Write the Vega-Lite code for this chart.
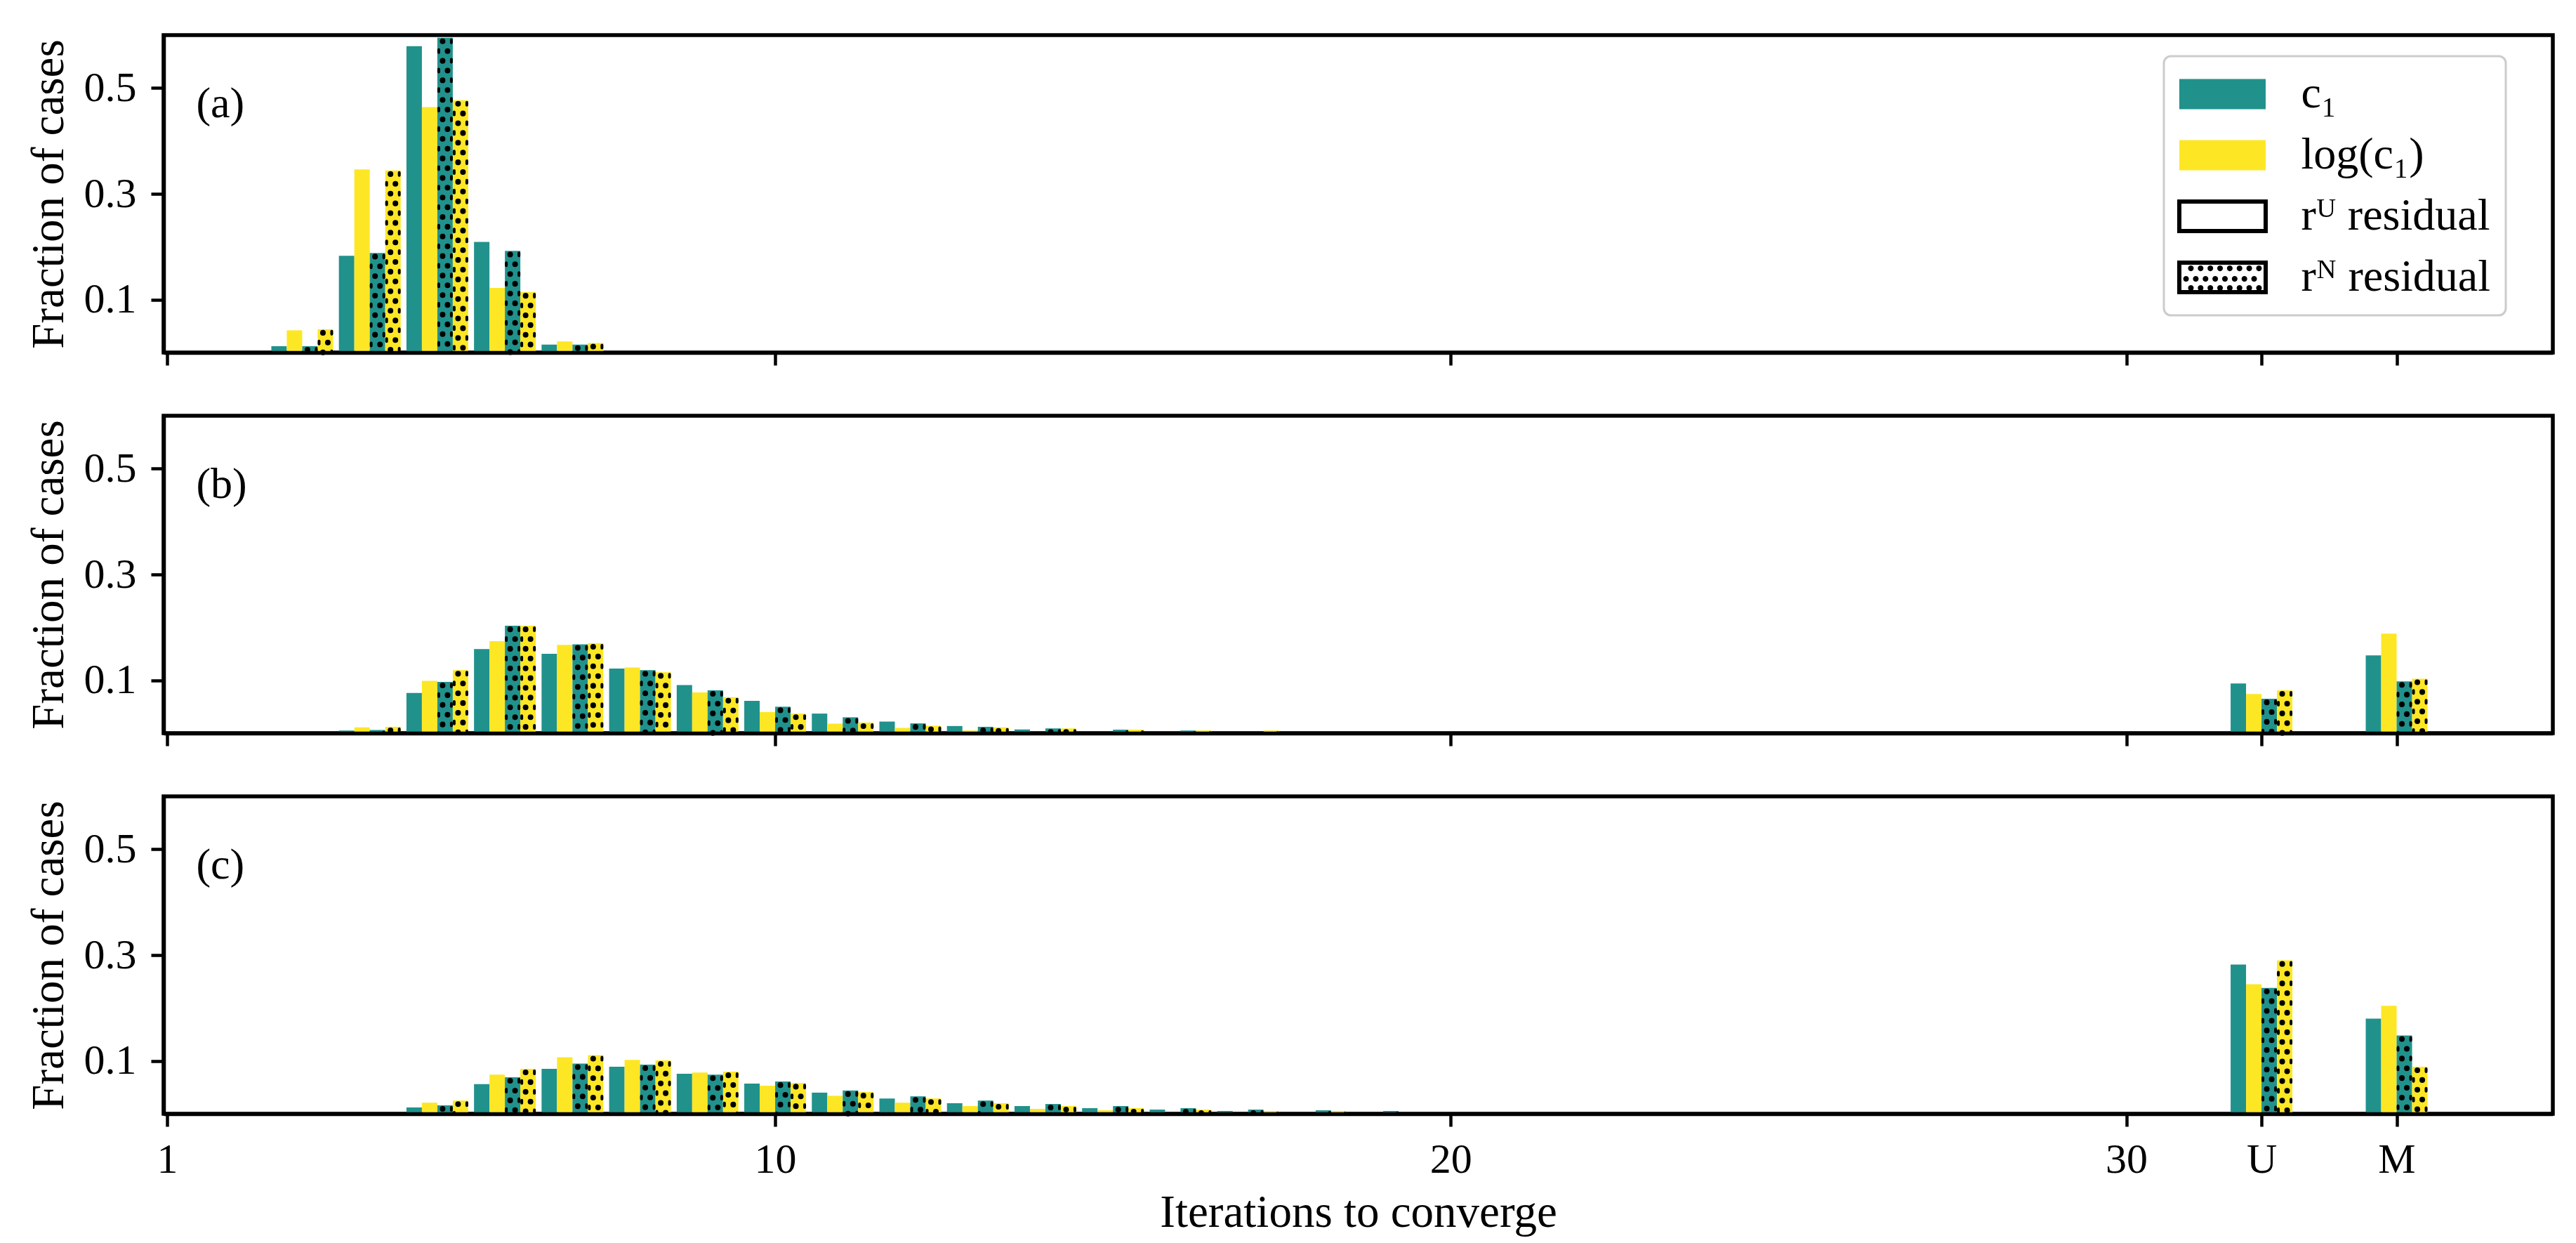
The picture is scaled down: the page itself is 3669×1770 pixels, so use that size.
{
"$schema": "https://vega.github.io/schema/vega-lite/v6.json",
"background": "white",
"padding": {"left": 34, "top": 47, "right": 30, "bottom": 10},
"bounds": "flush",
"spacing": 90,
"datasets": {"d": [
{"p":"a","it":3,"s":"cU","v":0.012},{"p":"a","it":3,"s":"lU","v":0.042},{"p":"a","it":3,"s":"cN","v":0.012},{"p":"a","it":3,"s":"lN","v":0.044},
{"p":"a","it":4,"s":"cU","v":0.183},{"p":"a","it":4,"s":"lU","v":0.346},{"p":"a","it":4,"s":"cN","v":0.188},{"p":"a","it":4,"s":"lN","v":0.344},
{"p":"a","it":5,"s":"cU","v":0.579},{"p":"a","it":5,"s":"lU","v":0.464},{"p":"a","it":5,"s":"cN","v":0.595},{"p":"a","it":5,"s":"lN","v":0.477},
{"p":"a","it":6,"s":"cU","v":0.209},{"p":"a","it":6,"s":"lU","v":0.122},{"p":"a","it":6,"s":"cN","v":0.192},{"p":"a","it":6,"s":"lN","v":0.114},
{"p":"a","it":7,"s":"cU","v":0.015},{"p":"a","it":7,"s":"lU","v":0.021},{"p":"a","it":7,"s":"cN","v":0.015},{"p":"a","it":7,"s":"lN","v":0.018},

{"p":"b","it":4,"s":"cU","v":0.005},{"p":"b","it":4,"s":"lU","v":0.011},{"p":"b","it":4,"s":"cN","v":0.006},{"p":"b","it":4,"s":"lN","v":0.012},
{"p":"b","it":5,"s":"cU","v":0.076},{"p":"b","it":5,"s":"lU","v":0.099},{"p":"b","it":5,"s":"cN","v":0.097},{"p":"b","it":5,"s":"lN","v":0.119},
{"p":"b","it":6,"s":"cU","v":0.159},{"p":"b","it":6,"s":"lU","v":0.174},{"p":"b","it":6,"s":"cN","v":0.203},{"p":"b","it":6,"s":"lN","v":0.203},
{"p":"b","it":7,"s":"cU","v":0.150},{"p":"b","it":7,"s":"lU","v":0.167},{"p":"b","it":7,"s":"cN","v":0.168},{"p":"b","it":7,"s":"lN","v":0.170},
{"p":"b","it":8,"s":"cU","v":0.122},{"p":"b","it":8,"s":"lU","v":0.124},{"p":"b","it":8,"s":"cN","v":0.119},{"p":"b","it":8,"s":"lN","v":0.115},
{"p":"b","it":9,"s":"cU","v":0.091},{"p":"b","it":9,"s":"lU","v":0.077},{"p":"b","it":9,"s":"cN","v":0.081},{"p":"b","it":9,"s":"lN","v":0.068},
{"p":"b","it":10,"s":"cU","v":0.061},{"p":"b","it":10,"s":"lU","v":0.040},{"p":"b","it":10,"s":"cN","v":0.050},{"p":"b","it":10,"s":"lN","v":0.037},
{"p":"b","it":11,"s":"cU","v":0.037},{"p":"b","it":11,"s":"lU","v":0.018},{"p":"b","it":11,"s":"cN","v":0.030},{"p":"b","it":11,"s":"lN","v":0.020},
{"p":"b","it":12,"s":"cU","v":0.022},{"p":"b","it":12,"s":"lU","v":0.010},{"p":"b","it":12,"s":"cN","v":0.0185},{"p":"b","it":12,"s":"lN","v":0.014},
{"p":"b","it":13,"s":"cU","v":0.0135},{"p":"b","it":13,"s":"lU","v":0.005},{"p":"b","it":13,"s":"cN","v":0.012},{"p":"b","it":13,"s":"lN","v":0.011},
{"p":"b","it":14,"s":"cU","v":0.007},{"p":"b","it":14,"s":"lU","v":0.001},{"p":"b","it":14,"s":"cN","v":0.009},{"p":"b","it":14,"s":"lN","v":0.009},
{"p":"b","it":15,"s":"cU","v":0.002},{"p":"b","it":15,"s":"lU","v":0.001},{"p":"b","it":15,"s":"cN","v":0.0066},{"p":"b","it":15,"s":"lN","v":0.0066},
{"p":"b","it":16,"s":"cU","v":0.001},{"p":"b","it":16,"s":"cN","v":0.005},{"p":"b","it":16,"s":"lN","v":0.005},
{"p":"b","it":17,"s":"cU","v":0.001},{"p":"b","it":17,"s":"cN","v":0.001},{"p":"b","it":17,"s":"lN","v":0.005},
{"p":"b","it":32,"s":"cU","v":0.094},{"p":"b","it":32,"s":"lU","v":0.074},{"p":"b","it":32,"s":"cN","v":0.065},{"p":"b","it":32,"s":"lN","v":0.081},
{"p":"b","it":34,"s":"cU","v":0.147},{"p":"b","it":34,"s":"lU","v":0.188},{"p":"b","it":34,"s":"cN","v":0.098},{"p":"b","it":34,"s":"lN","v":0.103},

{"p":"c","it":5,"s":"cU","v":0.012},{"p":"c","it":5,"s":"lU","v":0.021},{"p":"c","it":5,"s":"cN","v":0.016},{"p":"c","it":5,"s":"lN","v":0.025},
{"p":"c","it":6,"s":"cU","v":0.056},{"p":"c","it":6,"s":"lU","v":0.074},{"p":"c","it":6,"s":"cN","v":0.069},{"p":"c","it":6,"s":"lN","v":0.085},
{"p":"c","it":7,"s":"cU","v":0.085},{"p":"c","it":7,"s":"lU","v":0.107},{"p":"c","it":7,"s":"cN","v":0.095},{"p":"c","it":7,"s":"lN","v":0.111},
{"p":"c","it":8,"s":"cU","v":0.089},{"p":"c","it":8,"s":"lU","v":0.102},{"p":"c","it":8,"s":"cN","v":0.093},{"p":"c","it":8,"s":"lN","v":0.101},
{"p":"c","it":9,"s":"cU","v":0.0755},{"p":"c","it":9,"s":"lU","v":0.078},{"p":"c","it":9,"s":"cN","v":0.074},{"p":"c","it":9,"s":"lN","v":0.0795},
{"p":"c","it":10,"s":"cU","v":0.057},{"p":"c","it":10,"s":"lU","v":0.053},{"p":"c","it":10,"s":"cN","v":0.061},{"p":"c","it":10,"s":"lN","v":0.058},
{"p":"c","it":11,"s":"cU","v":0.040},{"p":"c","it":11,"s":"lU","v":0.034},{"p":"c","it":11,"s":"cN","v":0.044},{"p":"c","it":11,"s":"lN","v":0.041},
{"p":"c","it":12,"s":"cU","v":0.029},{"p":"c","it":12,"s":"lU","v":0.021},{"p":"c","it":12,"s":"cN","v":0.033},{"p":"c","it":12,"s":"lN","v":0.029},
{"p":"c","it":13,"s":"cU","v":0.020},{"p":"c","it":13,"s":"lU","v":0.0146},{"p":"c","it":13,"s":"cN","v":0.025},{"p":"c","it":13,"s":"lN","v":0.020},
{"p":"c","it":14,"s":"cU","v":0.0146},{"p":"c","it":14,"s":"lU","v":0.0093},{"p":"c","it":14,"s":"cN","v":0.0185},{"p":"c","it":14,"s":"lN","v":0.0146},
{"p":"c","it":15,"s":"cU","v":0.0106},{"p":"c","it":15,"s":"lU","v":0.0066},{"p":"c","it":15,"s":"cN","v":0.0146},{"p":"c","it":15,"s":"lN","v":0.0106},
{"p":"c","it":16,"s":"cU","v":0.008},{"p":"c","it":16,"s":"lU","v":0.001},{"p":"c","it":16,"s":"cN","v":0.0106},{"p":"c","it":16,"s":"lN","v":0.008},
{"p":"c","it":17,"s":"cU","v":0.0053},{"p":"c","it":17,"s":"lU","v":0.001},{"p":"c","it":17,"s":"cN","v":0.008},{"p":"c","it":17,"s":"lN","v":0.0053},
{"p":"c","it":18,"s":"cU","v":0.002},{"p":"c","it":18,"s":"lU","v":0.001},{"p":"c","it":18,"s":"cN","v":0.0066},{"p":"c","it":18,"s":"lN","v":0.0053},
{"p":"c","it":19,"s":"cU","v":0.001},{"p":"c","it":19,"s":"cN","v":0.0053},{"p":"c","it":19,"s":"lN","v":0.002},
{"p":"c","it":32,"s":"cU","v":0.282},{"p":"c","it":32,"s":"lU","v":0.245},{"p":"c","it":32,"s":"cN","v":0.238},{"p":"c","it":32,"s":"lN","v":0.290},
{"p":"c","it":34,"s":"cU","v":0.180},{"p":"c","it":34,"s":"lU","v":0.204},{"p":"c","it":34,"s":"cN","v":0.148},{"p":"c","it":34,"s":"lN","v":0.089}
]},
"vconcat": [
{
 "width": 3403, "height": 452,
 "layer": [
 {
 "data": {"name": "d"},
 "transform": [{"filter": "datum.p=='a'"}],
 "encoding": {
  "x": {"field": "it", "type": "quantitative", "scale": {"domain": [1, 36.26], "nice": false, "zero": false}, "axis": {"values": [1,10,20,30,32,34], "labels": false, "title": null, "zindex": 1}},
  "y": {"field": "v", "type": "quantitative", "stack": null, "scale": {"domain": [0, 0.6], "nice": false}, "axis": {"values": [0.1,0.3,0.5], "format": ".1f", "title": "Fraction of cases", "labelPadding": 21, "titlePadding": 16, "zindex": 1}}
 },
 "layer": [
  {"transform": [{"filter": "datum.s=='cU'"}], "mark": {"type": "bar", "orient": "vertical", "color": "#21918c", "width": 22, "xOffset": -33}},
  {"transform": [{"filter": "datum.s=='lU'"}], "mark": {"type": "bar", "orient": "vertical", "color": "#fde725", "width": 22, "xOffset": -11}},
  {"transform": [{"filter": "datum.s=='cN'"}], "mark": {"type": "bar", "orient": "vertical", "color": "#21918c", "width": 22, "xOffset": 11}},
  {"transform": [{"filter": "datum.s=='lN'"}], "mark": {"type": "bar", "orient": "vertical", "color": "#fde725", "width": 22, "xOffset": 33}},
  {"transform": [{"filter": "datum.s=='cN'"}], "mark": {"type": "rule", "color": "black", "strokeWidth": 8, "strokeCap": "round", "strokeDash": [0.1, 27.7], "strokeDashOffset": 22.8, "xOffset": 7.5}, "encoding": {"y2": {"datum": 0}}},
  {"transform": [{"filter": "datum.s=='cN'"}], "mark": {"type": "rule", "color": "black", "strokeWidth": 8, "strokeCap": "round", "strokeDash": [0.1, 27.7], "strokeDashOffset": 8.9, "xOffset": 14.5}, "encoding": {"y2": {"datum": 0}}},
  {"transform": [{"filter": "datum.s=='cN'"}], "mark": {"type": "rule", "color": "black", "strokeWidth": 4, "strokeCap": "round", "strokeDash": [4, 23.8], "strokeDashOffset": 24.8, "xOffset": 20}, "encoding": {"y2": {"datum": 0}}},
  {"transform": [{"filter": "datum.s=='cN'"}], "mark": {"type": "rule", "color": "black", "strokeWidth": 4, "strokeCap": "round", "strokeDash": [4, 23.8], "strokeDashOffset": 10.9, "xOffset": 2}, "encoding": {"y2": {"datum": 0}}},
  {"transform": [{"filter": "datum.s=='lN'"}], "mark": {"type": "rule", "color": "black", "strokeWidth": 8, "strokeCap": "round", "strokeDash": [0.1, 27.7], "strokeDashOffset": 22.8, "xOffset": 29.5}, "encoding": {"y2": {"datum": 0}}},
  {"transform": [{"filter": "datum.s=='lN'"}], "mark": {"type": "rule", "color": "black", "strokeWidth": 8, "strokeCap": "round", "strokeDash": [0.1, 27.7], "strokeDashOffset": 8.9, "xOffset": 36.5}, "encoding": {"y2": {"datum": 0}}},
  {"transform": [{"filter": "datum.s=='lN'"}], "mark": {"type": "rule", "color": "black", "strokeWidth": 4, "strokeCap": "round", "strokeDash": [4, 23.8], "strokeDashOffset": 24.8, "xOffset": 42}, "encoding": {"y2": {"datum": 0}}},
  {"transform": [{"filter": "datum.s=='lN'"}], "mark": {"type": "rule", "color": "black", "strokeWidth": 4, "strokeCap": "round", "strokeDash": [4, 23.8], "strokeDashOffset": 10.9, "xOffset": 24}, "encoding": {"y2": {"datum": 0}}},
  {"data": {"values": [{"p": "a", "k": "c₁"}, {"p": "a", "k": "log(c₁)"}, {"p": "a", "k": "rᵁ residual"}, {"p": "a", "k": "rᴺ residual"}]},
   "mark": {"type": "point", "filled": true, "clip": true},
   "encoding": {
    "x": {"datum": 100}, "y": {"datum": 0.3},
    "color": {"field": "k", "type": "nominal", "scale": {"domain": ["c₁", "log(c₁)", "rᵁ residual", "rᴺ residual"], "range": ["#21918c", "#fde725", "#000000", "#000000"]}, "legend": {"title": null}},
    "shape": {"field": "k", "type": "nominal", "scale": {"domain": ["c₁", "log(c₁)", "rᵁ residual", "rᴺ residual"], "range": [
      "M-2.5625,-0.896H2.5625V0.896H-2.5625Z",
      "M-2.5625,-0.896H2.5625V0.896H-2.5625Z",
      "M-2.6875,-1H2.6875V1H-2.6875ZM-2.4375,-0.75V0.75H2.4375V-0.75Z",
      "M-2.6875,-1H2.6875V1H-2.6875ZM-2.4375,-0.75V0.75H2.4375V-0.75ZM-2.0417,-0.54a0.1667,0.1667 0 1,1 0.3333,0a0.1667,0.1667 0 1,1 -0.3333,0ZM-1.4647,-0.54a0.1667,0.1667 0 1,1 0.3333,0a0.1667,0.1667 0 1,1 -0.3333,0ZM-0.8877,-0.54a0.1667,0.1667 0 1,1 0.3333,0a0.1667,0.1667 0 1,1 -0.3333,0ZM-0.3107,-0.54a0.1667,0.1667 0 1,1 0.3333,0a0.1667,0.1667 0 1,1 -0.3333,0ZM0.2663,-0.54a0.1667,0.1667 0 1,1 0.3333,0a0.1667,0.1667 0 1,1 -0.3333,0ZM0.8433,-0.54a0.1667,0.1667 0 1,1 0.3333,0a0.1667,0.1667 0 1,1 -0.3333,0ZM1.4208,-0.54a0.1667,0.1667 0 1,1 0.3333,0a0.1667,0.1667 0 1,1 -0.3333,0ZM1.9983,-0.54a0.1667,0.1667 0 1,1 0.3333,0a0.1667,0.1667 0 1,1 -0.3333,0ZM-2.3292,0.083a0.1667,0.1667 0 1,1 0.3333,0a0.1667,0.1667 0 1,1 -0.3333,0ZM-1.7517,0.083a0.1667,0.1667 0 1,1 0.3333,0a0.1667,0.1667 0 1,1 -0.3333,0ZM-1.1747,0.083a0.1667,0.1667 0 1,1 0.3333,0a0.1667,0.1667 0 1,1 -0.3333,0ZM-0.5977,0.083a0.1667,0.1667 0 1,1 0.3333,0a0.1667,0.1667 0 1,1 -0.3333,0ZM-0.0207,0.083a0.1667,0.1667 0 1,1 0.3333,0a0.1667,0.1667 0 1,1 -0.3333,0ZM0.5563,0.083a0.1667,0.1667 0 1,1 0.3333,0a0.1667,0.1667 0 1,1 -0.3333,0ZM1.1333,0.083a0.1667,0.1667 0 1,1 0.3333,0a0.1667,0.1667 0 1,1 -0.3333,0ZM1.7103,0.083a0.1667,0.1667 0 1,1 0.3333,0a0.1667,0.1667 0 1,1 -0.3333,0ZM-2.0417,0.625a0.1667,0.1667 0 1,1 0.3333,0a0.1667,0.1667 0 1,1 -0.3333,0ZM-1.4647,0.625a0.1667,0.1667 0 1,1 0.3333,0a0.1667,0.1667 0 1,1 -0.3333,0ZM-0.8877,0.625a0.1667,0.1667 0 1,1 0.3333,0a0.1667,0.1667 0 1,1 -0.3333,0ZM-0.3107,0.625a0.1667,0.1667 0 1,1 0.3333,0a0.1667,0.1667 0 1,1 -0.3333,0ZM0.2663,0.625a0.1667,0.1667 0 1,1 0.3333,0a0.1667,0.1667 0 1,1 -0.3333,0ZM0.8433,0.625a0.1667,0.1667 0 1,1 0.3333,0a0.1667,0.1667 0 1,1 -0.3333,0ZM1.4208,0.625a0.1667,0.1667 0 1,1 0.3333,0a0.1667,0.1667 0 1,1 -0.3333,0ZM1.9983,0.625a0.1667,0.1667 0 1,1 0.3333,0a0.1667,0.1667 0 1,1 -0.3333,0Z"
    ]}, "legend": {"title": null}}
   }}
 ]},
 {"data": {"values": [{"lab": "(a)"}]}, "mark": {"type": "text", "align": "left", "baseline": "middle", "font": "Liberation Serif", "fontSize": 62, "fill": "black"}, "encoding": {"x": {"datum": 1.43, "type": "quantitative"}, "y": {"datum": 0.47, "type": "quantitative"}, "text": {"field": "lab", "type": "nominal"}}}
 ]
},
{
 "width": 3403, "height": 452,
 "layer": [
 {
 "data": {"name": "d"},
 "transform": [{"filter": "datum.p=='b'"}],
 "encoding": {
  "x": {"field": "it", "type": "quantitative", "scale": {"domain": [1, 36.26], "nice": false, "zero": false}, "axis": {"values": [1,10,20,30,32,34], "labels": false, "title": null, "zindex": 1}},
  "y": {"field": "v", "type": "quantitative", "stack": null, "scale": {"domain": [0, 0.6], "nice": false}, "axis": {"values": [0.1,0.3,0.5], "format": ".1f", "title": "Fraction of cases", "labelPadding": 21, "titlePadding": 16, "zindex": 1}}
 },
 "layer": [
  {"transform": [{"filter": "datum.s=='cU'"}], "mark": {"type": "bar", "orient": "vertical", "color": "#21918c", "width": 22, "xOffset": -33}},
  {"transform": [{"filter": "datum.s=='lU'"}], "mark": {"type": "bar", "orient": "vertical", "color": "#fde725", "width": 22, "xOffset": -11}},
  {"transform": [{"filter": "datum.s=='cN'"}], "mark": {"type": "bar", "orient": "vertical", "color": "#21918c", "width": 22, "xOffset": 11}},
  {"transform": [{"filter": "datum.s=='lN'"}], "mark": {"type": "bar", "orient": "vertical", "color": "#fde725", "width": 22, "xOffset": 33}},
  {"transform": [{"filter": "datum.s=='cN'"}], "mark": {"type": "rule", "color": "black", "strokeWidth": 8, "strokeCap": "round", "strokeDash": [0.1, 27.7], "strokeDashOffset": 22.8, "xOffset": 7.5}, "encoding": {"y2": {"datum": 0}}},
  {"transform": [{"filter": "datum.s=='cN'"}], "mark": {"type": "rule", "color": "black", "strokeWidth": 8, "strokeCap": "round", "strokeDash": [0.1, 27.7], "strokeDashOffset": 8.9, "xOffset": 14.5}, "encoding": {"y2": {"datum": 0}}},
  {"transform": [{"filter": "datum.s=='cN'"}], "mark": {"type": "rule", "color": "black", "strokeWidth": 4, "strokeCap": "round", "strokeDash": [4, 23.8], "strokeDashOffset": 24.8, "xOffset": 20}, "encoding": {"y2": {"datum": 0}}},
  {"transform": [{"filter": "datum.s=='cN'"}], "mark": {"type": "rule", "color": "black", "strokeWidth": 4, "strokeCap": "round", "strokeDash": [4, 23.8], "strokeDashOffset": 10.9, "xOffset": 2}, "encoding": {"y2": {"datum": 0}}},
  {"transform": [{"filter": "datum.s=='lN'"}], "mark": {"type": "rule", "color": "black", "strokeWidth": 8, "strokeCap": "round", "strokeDash": [0.1, 27.7], "strokeDashOffset": 22.8, "xOffset": 29.5}, "encoding": {"y2": {"datum": 0}}},
  {"transform": [{"filter": "datum.s=='lN'"}], "mark": {"type": "rule", "color": "black", "strokeWidth": 8, "strokeCap": "round", "strokeDash": [0.1, 27.7], "strokeDashOffset": 8.9, "xOffset": 36.5}, "encoding": {"y2": {"datum": 0}}},
  {"transform": [{"filter": "datum.s=='lN'"}], "mark": {"type": "rule", "color": "black", "strokeWidth": 4, "strokeCap": "round", "strokeDash": [4, 23.8], "strokeDashOffset": 24.8, "xOffset": 42}, "encoding": {"y2": {"datum": 0}}},
  {"transform": [{"filter": "datum.s=='lN'"}], "mark": {"type": "rule", "color": "black", "strokeWidth": 4, "strokeCap": "round", "strokeDash": [4, 23.8], "strokeDashOffset": 10.9, "xOffset": 24}, "encoding": {"y2": {"datum": 0}}}
 ]},
 {"data": {"values": [{"lab": "(b)"}]}, "mark": {"type": "text", "align": "left", "baseline": "middle", "font": "Liberation Serif", "fontSize": 62, "fill": "black"}, "encoding": {"x": {"datum": 1.43, "type": "quantitative"}, "y": {"datum": 0.47, "type": "quantitative"}, "text": {"field": "lab", "type": "nominal"}}}
 ]
},
{
 "width": 3403, "height": 452,
 "layer": [
 {
 "data": {"name": "d"},
 "transform": [{"filter": "datum.p=='c'"}],
 "encoding": {
  "x": {"field": "it", "type": "quantitative", "scale": {"domain": [1, 36.26], "nice": false, "zero": false}, "axis": {"values": [1,10,20,30,32,34], "format": "d", "labelExpr": "datum.value==32?'U':datum.value==34?'M':datum.label", "labelFlush": false, "labelOverlap": false, "labelPadding": 18, "title": "Iterations to converge", "titlePadding": 14, "zindex": 1}},
  "y": {"field": "v", "type": "quantitative", "stack": null, "scale": {"domain": [0, 0.6], "nice": false}, "axis": {"values": [0.1,0.3,0.5], "format": ".1f", "title": "Fraction of cases", "labelPadding": 21, "titlePadding": 16, "zindex": 1}}
 },
 "layer": [
  {"transform": [{"filter": "datum.s=='cU'"}], "mark": {"type": "bar", "orient": "vertical", "color": "#21918c", "width": 22, "xOffset": -33}},
  {"transform": [{"filter": "datum.s=='lU'"}], "mark": {"type": "bar", "orient": "vertical", "color": "#fde725", "width": 22, "xOffset": -11}},
  {"transform": [{"filter": "datum.s=='cN'"}], "mark": {"type": "bar", "orient": "vertical", "color": "#21918c", "width": 22, "xOffset": 11}},
  {"transform": [{"filter": "datum.s=='lN'"}], "mark": {"type": "bar", "orient": "vertical", "color": "#fde725", "width": 22, "xOffset": 33}},
  {"transform": [{"filter": "datum.s=='cN'"}], "mark": {"type": "rule", "color": "black", "strokeWidth": 8, "strokeCap": "round", "strokeDash": [0.1, 27.7], "strokeDashOffset": 22.8, "xOffset": 7.5}, "encoding": {"y2": {"datum": 0}}},
  {"transform": [{"filter": "datum.s=='cN'"}], "mark": {"type": "rule", "color": "black", "strokeWidth": 8, "strokeCap": "round", "strokeDash": [0.1, 27.7], "strokeDashOffset": 8.9, "xOffset": 14.5}, "encoding": {"y2": {"datum": 0}}},
  {"transform": [{"filter": "datum.s=='cN'"}], "mark": {"type": "rule", "color": "black", "strokeWidth": 4, "strokeCap": "round", "strokeDash": [4, 23.8], "strokeDashOffset": 24.8, "xOffset": 20}, "encoding": {"y2": {"datum": 0}}},
  {"transform": [{"filter": "datum.s=='cN'"}], "mark": {"type": "rule", "color": "black", "strokeWidth": 4, "strokeCap": "round", "strokeDash": [4, 23.8], "strokeDashOffset": 10.9, "xOffset": 2}, "encoding": {"y2": {"datum": 0}}},
  {"transform": [{"filter": "datum.s=='lN'"}], "mark": {"type": "rule", "color": "black", "strokeWidth": 8, "strokeCap": "round", "strokeDash": [0.1, 27.7], "strokeDashOffset": 22.8, "xOffset": 29.5}, "encoding": {"y2": {"datum": 0}}},
  {"transform": [{"filter": "datum.s=='lN'"}], "mark": {"type": "rule", "color": "black", "strokeWidth": 8, "strokeCap": "round", "strokeDash": [0.1, 27.7], "strokeDashOffset": 8.9, "xOffset": 36.5}, "encoding": {"y2": {"datum": 0}}},
  {"transform": [{"filter": "datum.s=='lN'"}], "mark": {"type": "rule", "color": "black", "strokeWidth": 4, "strokeCap": "round", "strokeDash": [4, 23.8], "strokeDashOffset": 24.8, "xOffset": 42}, "encoding": {"y2": {"datum": 0}}},
  {"transform": [{"filter": "datum.s=='lN'"}], "mark": {"type": "rule", "color": "black", "strokeWidth": 4, "strokeCap": "round", "strokeDash": [4, 23.8], "strokeDashOffset": 10.9, "xOffset": 24}, "encoding": {"y2": {"datum": 0}}}
 ]},
 {"data": {"values": [{"lab": "(c)"}]}, "mark": {"type": "text", "align": "left", "baseline": "middle", "font": "Liberation Serif", "fontSize": 62, "fill": "black"}, "encoding": {"x": {"datum": 1.43, "type": "quantitative"}, "y": {"datum": 0.47, "type": "quantitative"}, "text": {"field": "lab", "type": "nominal"}}}
 ]
}
],
"resolve": {"scale": {"color": "independent", "shape": "independent"}, "legend": {"color": "independent", "shape": "independent"}},
"config": {
 "view": {"stroke": "black", "strokeWidth": 5.5},
 "font": "Liberation Serif",
 "axis": {"domainColor": "black", "domainWidth": 5.5, "tickColor": "black", "tickWidth": 4.5, "tickSize": 18, "labelFont": "Liberation Serif", "labelFontSize": 60, "labelColor": "black", "titleFont": "Liberation Serif", "titleFontSize": 65, "titleFontWeight": "normal", "titleColor": "black", "grid": false},
 "legend": {"orient": "none", "legendX": 2849, "legendY": 30, "padding": 22, "labelFont": "Liberation Serif", "labelFontSize": 64, "labelColor": "black", "labelOffset": 80, "symbolOffset": 29.5, "symbolSize": 2304, "symbolStrokeWidth": 0, "symbolOpacity": 1, "rowPadding": 23, "fillColor": "white", "strokeColor": "#cccccc", "strokeWidth": 3, "cornerRadius": 10, "labelLimit": 1000}
}
}
